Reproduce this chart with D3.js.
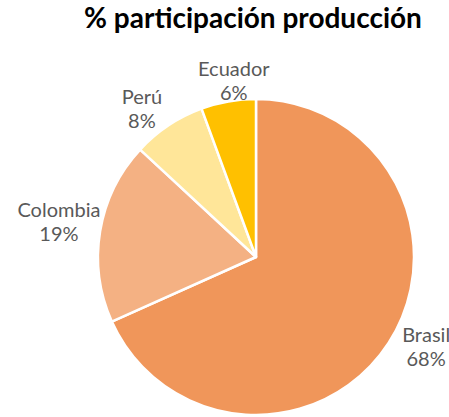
<!DOCTYPE html>
<html>
<head>
<meta charset="utf-8">
<script src="https://cdn.jsdelivr.net/npm/d3@7"></script>
<style>
  body { margin: 0; background: #fff; }
  svg { display: block; }
</style>
</head>
<body>
<div id="chart"></div>
<script>
// data
const countries = ['Brasil', 'Colombia', 'Perú', 'Ecuador'];
const shares = [68.3, 18.6, 7.5, 5.6];
const shareLabels = ['68%', '19%', '8%', '6%'];
const colors = ['#F0965A', '#F4B183', '#FFE699', '#FFC000'];

// small nudges so the labels sit like Excel's "best fit"
const labelNudge = [[11, -15], [-10, -6], [-9, 8], [11, 9]];

const width = 449, height = 417;
const cx = 256, cy = 257, r = 158;
const font = 'Lato, Carlito, "Open Sans", sans-serif';

const svg = d3.select('#chart')
    .append('svg')
    .attr('width', width)
    .attr('height', height);

// title
svg.append('text')
    .attr('x', 253)
    .attr('y', 28)
    .attr('text-anchor', 'middle')
    .style('font-family', font)
    .style('font-weight', 'bold')
    .style('font-size', '28px')
    .style('fill', '#000')
    .text('% participación producción');

const pie = d3.pie().sort(null).value(d => d);
const arcs = pie(shares);

const arc = d3.arc().innerRadius(0).outerRadius(r);
const labelArc = d3.arc().innerRadius(r * 1.2).outerRadius(r * 1.2);

const g = svg.append('g').attr('transform', `translate(${cx},${cy})`);

g.selectAll('path')
    .data(arcs)
    .enter()
    .append('path')
    .attr('d', arc)
    .attr('fill', (d, i) => colors[i])
    .attr('stroke', '#fff')
    .attr('stroke-width', 2.5)
    .attr('stroke-linejoin', 'round');

const labels = g.selectAll('text.lbl')
    .data(arcs)
    .enter()
    .append('text')
    .attr('class', 'lbl')
    .attr('text-anchor', 'middle')
    .attr('transform', (d, i) => {
        const c = labelArc.centroid(d);
        return `translate(${c[0] + labelNudge[i][0]},${c[1] + labelNudge[i][1]})`;
    })
    .style('font-family', font)
    .style('font-size', '20px')
    .style('fill', '#595959');

labels.append('tspan')
    .attr('x', 0)
    .attr('dy', -3)
    .text((d, i) => countries[i]);

labels.append('tspan')
    .attr('x', 0)
    .attr('dy', 24)
    .text((d, i) => shareLabels[i]);
</script>
</body>
</html>
